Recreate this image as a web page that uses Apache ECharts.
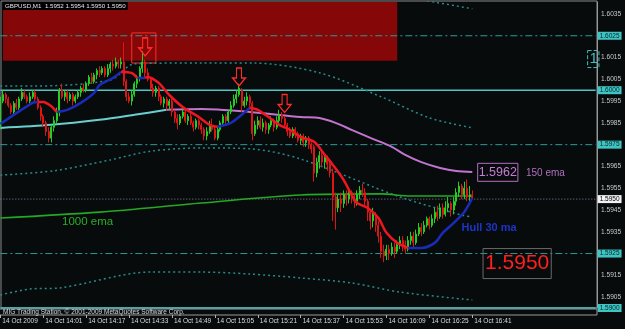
<!DOCTYPE html>
<html><head><meta charset="utf-8">
<script src="https://cdn.jsdelivr.net/npm/echarts@6/dist/echarts.min.js"></script>
<style>html,body{margin:0;padding:0;background:#070b0c;}#c{width:625px;height:329px;}</style>
</head><body><div id="c"></div>
<script>
// ---------- data ----------
const titleText = 'GBPUSD,M1  1.5952 1.5954 1.5950 1.5950';
const copyrightText = 'MIG Trading Station, \u00A9 2001-2009 MetaQuotes Software Corp.';
const startMinute = 13 * 60 + 45;      // first bar 13:45
const barCount = 223;                  // bars + empty future space
const tickEvery = 16;
const tickLabels = ['14 Oct 2009','14 Oct 14:01','14 Oct 14:17','14 Oct 14:33','14 Oct 14:49','14 Oct 15:05',
  '14 Oct 15:21','14 Oct 15:37','14 Oct 15:53','14 Oct 16:09','14 Oct 16:25','14 Oct 16:41'];
const priceTickLabels = [1.6035,1.6015,1.6005,1.5995,1.5985,1.5965,1.5955,1.5945,1.5935,1.5915,1.5905];

const open = [1.5983,1.5995,1.5998,1.5996,1.5993,1.5990,1.5994,1.5992,1.5996,1.5999,
1.5997,1.5995,1.5997,1.5999,1.5996,1.5992,1.5988,1.5985,1.5981,1.5978,
1.5983,1.5986,1.5990,1.6000,1.5997,1.5999,1.5996,1.5998,1.5995,1.5997,
1.5999,1.6001,1.6000,1.6003,1.6006,1.6004,1.6007,1.6009,1.6008,1.6010,
1.6007,1.6010,1.6012,1.6011,1.6013,1.6012,1.6013,1.6004,1.5997,1.5995,
1.5998,1.6003,1.6006,1.6010,1.6013,1.6008,1.6005,1.6001,1.5999,1.6001,
1.5997,1.5994,1.5996,1.5993,1.5995,1.5990,1.5987,1.5985,1.5988,1.5990,
1.5986,1.5988,1.5985,1.5983,1.5986,1.5984,1.5982,1.5979,1.5981,1.5984,
1.5982,1.5978,1.5982,1.5985,1.5988,1.5986,1.5990,1.5993,1.5996,1.5998,
1.6000,1.5993,1.5995,1.5997,1.5994,1.5980,1.5984,1.5986,1.5983,1.5985,
1.5982,1.5984,1.5986,1.5983,1.5986,1.5989,1.5987,1.5984,1.5981,1.5979,
1.5982,1.5980,1.5977,1.5979,1.5976,1.5978,1.5975,1.5974,1.5962,1.5967,
1.5970,1.5967,1.5969,1.5966,1.5962,1.5951,1.5946,1.5950,1.5948,1.5952,
1.5950,1.5953,1.5951,1.5949,1.5952,1.5954,1.5953,1.5949,1.5944,1.5940,
1.5943,1.5938,1.5933,1.5926,1.5924,1.5927,1.5925,1.5928,1.5926,1.5929,
1.5931,1.5929,1.5927,1.5931,1.5933,1.5930,1.5934,1.5937,1.5935,1.5938,
1.5941,1.5938,1.5941,1.5944,1.5942,1.5946,1.5943,1.5946,1.5948,1.5945,
1.5949,1.5953,1.5956,1.5952,1.5955,1.5951,1.5952];
const close = [1.5995,1.5998,1.5996,1.5993,1.5990,1.5994,1.5992,1.5996,1.5999,1.5997,
1.5995,1.5997,1.5999,1.5996,1.5992,1.5988,1.5985,1.5981,1.5978,1.5983,
1.5986,1.5990,1.6000,1.5997,1.5999,1.5996,1.5998,1.5995,1.5997,1.5999,
1.6001,1.6000,1.6003,1.6006,1.6004,1.6007,1.6009,1.6008,1.6010,1.6007,
1.6010,1.6012,1.6011,1.6013,1.6012,1.6013,1.6004,1.5997,1.5995,1.5998,
1.6003,1.6006,1.6010,1.6013,1.6008,1.6005,1.6001,1.5999,1.6001,1.5997,
1.5994,1.5996,1.5993,1.5995,1.5990,1.5987,1.5985,1.5988,1.5990,1.5986,
1.5988,1.5985,1.5983,1.5986,1.5984,1.5982,1.5979,1.5981,1.5984,1.5982,
1.5978,1.5982,1.5985,1.5988,1.5986,1.5990,1.5993,1.5996,1.5998,1.6001,
1.5993,1.5995,1.5997,1.5994,1.5980,1.5984,1.5986,1.5983,1.5985,1.5982,
1.5984,1.5986,1.5983,1.5986,1.5989,1.5987,1.5984,1.5981,1.5979,1.5982,
1.5980,1.5977,1.5979,1.5976,1.5978,1.5975,1.5973,1.5962,1.5967,1.5970,
1.5967,1.5969,1.5966,1.5962,1.5951,1.5946,1.5950,1.5948,1.5952,1.5950,
1.5953,1.5951,1.5949,1.5952,1.5954,1.5953,1.5949,1.5944,1.5940,1.5943,
1.5938,1.5933,1.5926,1.5924,1.5927,1.5925,1.5928,1.5926,1.5929,1.5931,
1.5929,1.5927,1.5931,1.5933,1.5930,1.5934,1.5937,1.5935,1.5938,1.5941,
1.5938,1.5941,1.5944,1.5942,1.5946,1.5943,1.5946,1.5948,1.5945,1.5949,
1.5953,1.5956,1.5952,1.5955,1.5951,1.5952,1.5950];
const low = [1.5982,1.5994,1.5994,1.5992,1.5989,1.5989,1.5991,1.5991,1.5995,1.5996,
1.5994,1.5994,1.5996,1.5995,1.5991,1.5986,1.5983,1.5979,1.5976,1.5976,
1.5981,1.5985,1.5988,1.5996,1.5995,1.5994,1.5995,1.5993,1.5994,1.5996,
1.5997,1.5999,1.5999,1.6002,1.6003,1.6003,1.6005,1.6006,1.6007,1.6006,
1.6006,1.6008,1.6009,1.6010,1.6010,1.6010,1.6002,1.5995,1.5994,1.5993,
1.5997,1.6001,1.6004,1.6008,1.6006,1.6004,1.6000,1.5997,1.5997,1.5995,
1.5993,1.5992,1.5991,1.5991,1.5988,1.5985,1.5982,1.5984,1.5987,1.5985,
1.5984,1.5984,1.5981,1.5982,1.5982,1.5980,1.5977,1.5977,1.5980,1.5981,
1.5977,1.5977,1.5981,1.5984,1.5984,1.5985,1.5989,1.5992,1.5994,1.5997,
1.5990,1.5992,1.5993,1.5992,1.5977,1.5979,1.5982,1.5982,1.5981,1.5980,
1.5980,1.5983,1.5981,1.5982,1.5985,1.5985,1.5983,1.5979,1.5978,1.5978,
1.5978,1.5976,1.5975,1.5974,1.5974,1.5973,1.5971,1.5958,1.5960,1.5964,
1.5965,1.5964,1.5963,1.5960,1.5940,1.5936,1.5944,1.5944,1.5946,1.5947,
1.5948,1.5948,1.5946,1.5947,1.5950,1.5951,1.5947,1.5940,1.5936,1.5937,
1.5935,1.5930,1.5923,1.5921,1.5922,1.5922,1.5924,1.5923,1.5925,1.5927,
1.5926,1.5925,1.5926,1.5929,1.5928,1.5929,1.5933,1.5933,1.5934,1.5937,
1.5936,1.5937,1.5939,1.5940,1.5941,1.5941,1.5942,1.5944,1.5942,1.5943,
1.5947,1.5951,1.5950,1.5950,1.5949,1.5949,1.5950];
const high = [1.5997,1.6000,1.5999,1.5997,1.5994,1.5995,1.5996,1.5997,1.6001,1.6000,
1.5998,1.5999,1.6000,1.6000,1.5997,1.5993,1.5989,1.5986,1.5983,1.5984,
1.5988,1.5992,1.6001,1.6003,1.6000,1.6000,1.5999,1.5999,1.5998,1.6000,
1.6002,1.6003,1.6004,1.6007,1.6008,1.6008,1.6010,1.6011,1.6011,1.6011,
1.6012,1.6013,1.6014,1.6015,1.6014,1.6015,1.6022,1.6005,1.5999,1.6000,
1.6004,1.6007,1.6011,1.6018,1.6014,1.6010,1.6006,1.6003,1.6002,1.6002,
1.5998,1.5997,1.5997,1.5996,1.5996,1.5991,1.5989,1.5989,1.5992,1.5991,
1.5989,1.5990,1.5986,1.5987,1.5987,1.5985,1.5983,1.5983,1.5986,1.5987,
1.5983,1.5983,1.5986,1.5989,1.5989,1.5991,1.5995,1.5998,1.6000,1.6003,
1.6001,1.5997,1.5999,1.5998,1.5995,1.5986,1.5988,1.5988,1.5987,1.5986,
1.5985,1.5988,1.5987,1.5988,1.5991,1.5990,1.5988,1.5985,1.5983,1.5983,
1.5983,1.5981,1.5980,1.5980,1.5979,1.5979,1.5976,1.5975,1.5969,1.5972,
1.5972,1.5970,1.5970,1.5967,1.5964,1.5953,1.5952,1.5953,1.5954,1.5954,
1.5955,1.5954,1.5953,1.5954,1.5956,1.5957,1.5955,1.5950,1.5945,1.5946,
1.5944,1.5940,1.5935,1.5929,1.5929,1.5929,1.5930,1.5930,1.5931,1.5933,
1.5933,1.5931,1.5933,1.5935,1.5935,1.5936,1.5939,1.5939,1.5940,1.5942,
1.5942,1.5943,1.5946,1.5947,1.5948,1.5948,1.5949,1.5951,1.5949,1.5951,
1.5955,1.5958,1.5957,1.5958,1.5959,1.5956,1.5954];

// Hull 30 MA, split into rising (blue) and falling (red) pieces: [barIndex, price]
const hullRising = [
  [[0,1.59845],[12,1.59942],[14,1.59946]],
  [[21,1.5990],[25,1.5991],[30,1.59942],[35,1.59988],[37,1.60024],[42,1.60056],[45,1.60084]],
  [[51,1.60056],[54,1.60056]],
  [[81,1.59832],[86,1.5985],[90,1.59887],[93,1.59919]],
  [[152,1.59276],[157,1.59276],[162,1.59299],[165,1.59345],[169,1.5939],[173,1.59441],[176,1.59505]]
];
const hullFalling = [
  [[14,1.59946],[16,1.59946],[19,1.59926],[21,1.5990]],
  [[45,1.60084],[49,1.60079],[51,1.60056]],
  [[54,1.60056],[55,1.60061],[59,1.60034],[63,1.59978],[68,1.59923],[74,1.59877],[78,1.59841],[81,1.59832]],
  [[93,1.59919],[96,1.5991],[100,1.59877],[104,1.59841],[108,1.59818],[112,1.59785],[117,1.59763],[121,1.59703],
   [124,1.59657],[128,1.59588],[131,1.59519],[133,1.59482],[137,1.59459],[141,1.59413],[144,1.59345],[148,1.59299],[152,1.59276]]
];
const ema150Rising = [[0,1.59827],[19,1.59841],[37,1.59864],[50,1.59887],[62,1.5991]];
const ema150Falling = [[62,1.5991],[75,1.59914],[93,1.5990],[112,1.59877],[119,1.59872],[125,1.5985],[131,1.59818],
  [138,1.59781],[146,1.5974],[151,1.59703],[157,1.5967],[164,1.59643],[170,1.59629],[176,1.59625]];
const ema1000 = [[0,1.59413],[37,1.5944],[75,1.59482],[112,1.59519],[142,1.59524],[153,1.59514],[176,1.59514]];

const bandTop = [[150,1.60428],[163,1.60402],[176,1.60374]];
const bandUpper = [[0,1.60019],[12,1.60019],[41,1.60047],[50,1.60121],[75,1.60125],[94,1.60125],[119,1.6008],
  [142,1.5997],[160,1.59873],[176,1.59827]];
const bandMiddle = [[0,1.5961],[20,1.5963],[41,1.5968],[56,1.5972],[75,1.59735],[94,1.5973],[112,1.59684],
  [149,1.5951],[172,1.59427],[176,1.59418]];
const bandLower = [[0,1.5906],[11,1.59087],[22,1.59092],[56,1.59165],[75,1.59165],[93,1.59156],[112,1.59138],
  [131,1.59115],[149,1.59073],[176,1.59037]];

const levelValues = [1.6025, 1.6000, 1.5975, 1.5950, 1.5925, 1.5900];
const levelLabels = ['1.6025', '1.6000', '1.5975', '1.5950', '1.5925', '1.5900'];
const levelKinds = ['dashdot','solid','dashdot','price','dashdot','solid'];

const redZone = [[1, 1.60135], [148, 1.60405]];
const arrowBox = [[49, 1.60263], [58, 1.60125]];
const arrowPoints = [[54, 1.60199], [89, 1.60061], [106, 1.59939]];

const notes = [
  {text:'1000 ema',   at:[23, 1.59395]},
  {text:'Hull 30 ma', at:[172, 1.59367]},
  {text:'1.5962',     at:[178, 1.59623]},
  {text:'150 ema',    at:[196, 1.5962]},
  {text:'1.5950',     at:[180, 1.59204]},
  {text:'1',          at:[219, 1.60143]}
];

// ---------- chart ----------
const FONT = 'Liberation Sans, Arial, sans-serif';
const cats = [];
for (let i = 0; i < barCount; i++) {
  const t = startMinute + i;
  cats.push(String(Math.floor(t / 60)).padStart(2, '0') + ':' + String(t % 60).padStart(2, '0'));
}
const lastBar = open.length - 1;
const lastCat = barCount - 1;
const showTick = (i) => i % tickEvery === 0 && i <= lastBar;

const noteStyles = {
  '1000 ema':  {color:'#27b027', fontSize:11.5},
  'Hull 30 ma':{color:'#1c34c8', fontSize:11, fontWeight:'bold'},
  '1.5962':    {color:'#c77dd3', fontSize:12.5, borderColor:'#b46cc0', borderWidth:1, padding:[3,1,2,1]},
  '150 ema':   {color:'#b070bd', fontSize:10},
  '1.5950':    {color:'#ff1f1f', fontSize:21, borderColor:'#6a6a6a', borderWidth:1, padding:[5,2,4,2]},
  '1':         {color:'#3fc0c0', fontSize:15, borderColor:'#3fc0c0', borderWidth:1, borderType:'dashed', padding:[1,1,1,2]}
};

const levelStyle = {
  dashdot:{color:'#2e9a9a', width:1, type:[7,3,2,3]},
  solid:{color:'#4fc6c6', width:1.5, type:'solid'},
  price:{color:'#8484a6', width:1, type:[1,2]}
};

const series = [];
// background red zone
series.push({
  type:'line', data:[], z:1, silent:true,
  markArea:{silent:true, data:[
    [{xAxis:redZone[0][0], yAxis:redZone[0][1], itemStyle:{color:'#850707'}}, {xAxis:redZone[1][0], yAxis:redZone[1][1]}]
  ]}
});
// horizontal levels, one line series each, label boxes on the price scale
levelValues.forEach((v, i) => {
  const k = levelKinds[i];
  series.push({
    type:'line', data:[[0, v], [lastCat, v]], z:2, silent:true, symbol:'none',
    lineStyle:levelStyle[k],
    endLabel:{show:true, distance:2, formatter:levelLabels[i],
      fontSize:6.5, fontFamily:FONT, padding:[1,2,0,2],
      color: k === 'price' ? '#000' : '#062626', backgroundColor: k === 'price' ? '#f2f2f2' : '#3fc4c4'}
  });
});
// dotted bands
[bandTop, bandUpper, bandMiddle, bandLower].forEach(b => series.push({
  type:'line', data:b, z:2, smooth:0.3, symbol:'none', silent:true,
  lineStyle:{color:'#2a8a8a', width:1.5, type:[2,3]}
}));
// EMAs
series.push({type:'line', data:ema1000, z:3, smooth:0.3, symbol:'none', lineStyle:{color:'#25a825', width:1.6}});
series.push({type:'line', data:ema150Rising, z:3, smooth:0.3, symbol:'none', lineStyle:{color:'#6ccfcf', width:2}});
series.push({type:'line', data:ema150Falling, z:3, smooth:0.3, symbol:'none', lineStyle:{color:'#c274cf', width:2}});
// candles
series.push({
  type:'candlestick', z:4, barWidth:1.5,
  data: open.map((o, i) => [o, close[i], low[i], high[i]]),
  itemStyle:{color:'#22cf22', color0:'#e01414', borderColor:'#22cf22', borderColor0:'#e01414', borderWidth:1}
});
// Hull MA
hullRising.forEach(s => series.push({type:'line', data:s, z:5, smooth:0.3, symbol:'none', lineStyle:{color:'#1a2bb8', width:2.5}}));
hullFalling.forEach(s => series.push({type:'line', data:s, z:5, smooth:0.3, symbol:'none', lineStyle:{color:'#ee1620', width:2.5}}));
// arrows + boxes + text
series.push({
  type:'line', data:[], z:6, silent:true,
  markArea:{silent:true, data:[
    [{xAxis:arrowBox[0][0], yAxis:arrowBox[0][1], itemStyle:{color:'rgba(0,0,0,0)', borderColor:'#ff2a2a', borderWidth:1}},
     {xAxis:arrowBox[1][0], yAxis:arrowBox[1][1]}]
  ]},
  markPoint:{silent:true, animation:false, data: arrowPoints.map(p => ({
      coord:p, symbol:'path://M4,0 L9,0 L9,10 L13,10 L6.5,18 L0,10 L4,10 Z', symbolSize:[13,18],
      itemStyle:{color:'rgba(0,0,0,0)', borderColor:'#ff2a2a', borderWidth:1.3}, label:{show:false}
    })).concat(notes.map(n => ({
      coord:n.at, symbol:'rect', symbolSize:0,
      label:Object.assign({show:true, position:'right', distance:0, formatter:n.text, fontFamily:FONT,
        align:'left', verticalAlign:'middle'}, noteStyles[n.text])
    })))
  }
});

const option = {
  backgroundColor:'#070b0c',
  animation:false,
  title:[
    {text:titleText, left:3, top:2, padding:[1,2,1,2], backgroundColor:'#000',
     textStyle:{color:'#e6e6e6', fontSize:6.2, fontWeight:'normal', fontFamily:FONT}},
    {text:copyrightText, left:3, top:309, padding:0,
     textStyle:{color:'#d8d8d8', fontSize:6.5, fontWeight:'normal', fontFamily:FONT}}
  ],
  grid:[
    {left:-1, right:28, top:2, bottom:21, outerBoundsMode:'none', containLabel:false},
    {left:-1, right:28, top:309, height:6, outerBoundsMode:'none', containLabel:false, show:true, borderColor:'#9a9a9a', borderWidth:1},
    {left:1, right:28, top:1, bottom:21, outerBoundsMode:'none', containLabel:false, show:true, borderColor:'#8a8a8a', borderWidth:1}
  ],
  xAxis:[
    {type:'category', gridIndex:0, data:cats, boundaryGap:true, axisLine:{show:false}, axisTick:{show:false}, axisLabel:{show:false}, splitLine:{show:false}},
    {type:'category', gridIndex:1, data:cats, boundaryGap:true, axisLine:{show:false},
     axisTick:{show:true, alignWithLabel:true, interval:(i)=>showTick(i), length:3, lineStyle:{color:'#b0b0b0'}},
     axisLabel:{show:true, interval:(i)=>showTick(i), formatter:(v,i)=>tickLabels[i/tickEvery], align:'left', margin:3,
       padding:[0,0,0,2], color:'#dcdcdc', fontSize:6.5, fontFamily:FONT, hideOverlap:false}},
    {type:'value', gridIndex:2, show:false}
  ],
  yAxis:[
    {type:'value', gridIndex:0, position:'right', min:1.5900, max:1.60405, interval:0.0005,
     axisLine:{show:true, lineStyle:{color:'#9a9a9a'}}, axisTick:{show:false}, splitLine:{show:false},
     axisLabel:{show:true, margin:4, color:'#c8c8c8', fontSize:6.6, fontFamily:FONT, showMinLabel:true, showMaxLabel:true,
       formatter:(v)=>{const k=Math.round(v*10000); return priceTickLabels.some(p=>Math.round(p*10000)===k) ? (k/10000).toFixed(4) : '';}}},
    {type:'value', gridIndex:1, show:false},
    {type:'value', gridIndex:2, show:false}
  ],
  series: series
};
const chart = echarts.init(document.getElementById('c'), null, {renderer:'canvas'});
chart.setOption(option);
</script>
</body></html>
